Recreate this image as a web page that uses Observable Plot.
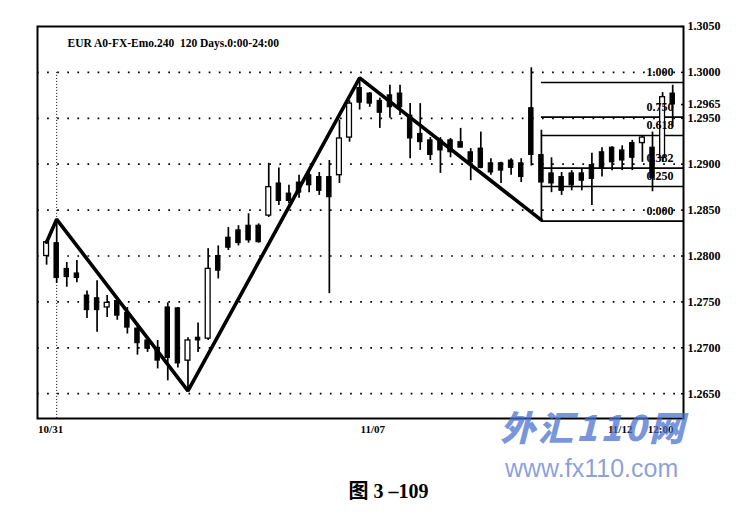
<!DOCTYPE html>
<html>
<head>
<meta charset="utf-8">
<script src="https://cdn.jsdelivr.net/npm/d3@7"></script>
<script src="https://cdn.jsdelivr.net/npm/@observablehq/plot@0.6"></script>
<style>
  html, body { margin: 0; padding: 0; background: #fff; }
  #wrap { position: relative; width: 745px; height: 526px; overflow: hidden; background: #fff; }
  #chart { position: absolute; left: 0; top: 0; }
  #caption { position: absolute; left: 16px; top: 481px; width: 745px; text-align: center; line-height: 1;
    font-family: "Liberation Serif", "Noto Sans CJK SC", serif; font-weight: bold; font-size: 20px; color: #000; }
  .wm1 { position: absolute; left: 500px; top: 408px; line-height: 1; font-family: "Noto Sans CJK SC", sans-serif;
    font-weight: 900; font-style: italic; font-size: 35px; color: rgba(70,110,205,0.72); letter-spacing: 3px; }
  .wm2 { position: absolute; left: 505px; top: 456px; line-height: 1; font-family: "Liberation Sans", Arial, sans-serif;
    font-size: 25px; color: rgba(95,125,200,0.72); }
</style>
</head>
<body>
<div id="wrap">
  <div id="chart"></div>
  <div class="wm1">外汇110网</div>
  <div class="wm2">www.fx110.com</div>
  <div id="caption">图 3 –109</div>
</div>
<script>
// ---- data (4-hour EUR candles) ----
const opens  = [1.2800,1.2814,1.2786,1.2781,1.2757,1.2754,1.2744,1.2751,1.2738,1.2721,
                1.2708,1.2700,1.2744,1.2743,1.2686,1.2711,1.2710,1.2800,1.2820,1.2828,
                1.2833,1.2833,1.2844,1.2879,1.2868,1.2880,1.2888,1.2886,1.2886,1.2888,
                1.2929,1.2983,1.2977,1.2969,1.2975,1.2977,1.2953,1.2933,1.2926,1.2926,
                1.2926,1.2924,1.2913,1.2917,1.2901,1.2901,1.2904,1.2901,1.2961,1.2910,
                1.2890,1.2886,1.2890,1.2890,1.2899,1.2913,1.2918,1.2915,1.2923,1.2923,
                1.2918,1.2907,1.2977];
const highs  = [1.2817,1.2840,1.2793,1.2795,1.2762,1.2773,1.2757,1.2755,1.2744,1.2726,
                1.2711,1.2708,1.2749,1.2744,1.2711,1.2727,1.2808,1.2811,1.2831,1.2833,
                1.2846,1.2835,1.2901,1.2896,1.2877,1.2888,1.2893,1.2891,1.2904,1.2948,
                1.2969,1.2994,1.2978,1.2972,1.2986,1.2986,1.2966,1.2966,1.2929,1.2929,
                1.2928,1.2939,1.2917,1.2935,1.2906,1.2902,1.2906,1.2906,1.3005,1.2937,
                1.2907,1.2891,1.2893,1.2895,1.2912,1.2918,1.2919,1.2920,1.2926,1.2931,
                1.2935,1.2978,1.2986];
const lows   = [1.2790,1.2770,1.2766,1.2771,1.2732,1.2717,1.2733,1.2730,1.2715,1.2692,
                1.2695,1.2677,1.2664,1.2678,1.2654,1.2695,1.2708,1.2775,1.2806,1.2811,
                1.2814,1.2814,1.2842,1.2855,1.2857,1.2863,1.2869,1.2866,1.2759,1.2879,
                1.2924,1.2959,1.2962,1.2939,1.2950,1.2953,1.2906,1.2915,1.2904,1.2890,
                1.2907,1.2918,1.2882,1.2895,1.2888,1.2879,1.2888,1.2880,1.2898,1.2838,
                1.2869,1.2866,1.2871,1.2871,1.2855,1.2886,1.2893,1.2893,1.2893,1.2902,
                1.2870,1.2902,1.2940];
const closes = [1.2815,1.2776,1.2777,1.2776,1.2741,1.2741,1.2749,1.2735,1.2722,1.2705,
                1.2699,1.2686,1.2689,1.2683,1.2708,1.2708,1.2786,1.2784,1.2809,1.2814,
                1.2817,1.2815,1.2875,1.2860,1.2860,1.2869,1.2877,1.2871,1.2864,1.2928,
                1.2966,1.2967,1.2966,1.2956,1.2962,1.2962,1.2928,1.2924,1.2910,1.2915,
                1.2913,1.2918,1.2902,1.2896,1.2891,1.2893,1.2896,1.2886,1.2910,1.2880,
                1.2879,1.2871,1.2877,1.2882,1.2884,1.2896,1.2902,1.2904,1.2907,1.2929,
                1.2885,1.2973,1.2965];

// zig-zag swing line (candle index, price)
const zzIndex = [0, 1, 14, 31, 49];
const zzPrice = [1.2815, 1.2840, 1.2653, 1.2994, 1.2839];

// Fibonacci retracement
const fibLevels = [1.000, 0.750, 0.618, 0.382, 0.250, 0.000];
const fibHigh = 1.2989, fibLow = 1.2838, fibStart = 49;

// axes
const yTicks = [1.3050, 1.3000, 1.2965, 1.2950, 1.2900, 1.2850, 1.2800, 1.2750, 1.2700, 1.2650];
const gridLevels = [1.3000, 1.2950, 1.2900, 1.2850, 1.2800, 1.2750, 1.2700, 1.2650];
const xTickPos = [0.4, 32.3, 56.8, 60.8];
const xTickLabels = ["10/31", "11/07", "11/12", "12:00"];
const dateLine = [1];
const title = "EUR A0-FX-Emo.240  120 Days.0:00-24:00";

// ---- build ----
const candles = opens.map((o, i) => ({i, o, h: highs[i], l: lows[i], c: closes[i]}));
const zz = zzIndex.map((x, k) => ({x, y: zzPrice[k]}));
const xDomain = [-0.9, 63.07];
const yDomain = [1.2623, 1.3050];
const fibY = d => fibLow + d * (fibHigh - fibLow);

const chart = Plot.plot({
  width: 745,
  height: 445,
  marginLeft: 37,
  marginRight: 62,
  marginTop: 26,
  marginBottom: 27,
  style: {fontFamily: "'Liberation Serif', serif", fontSize: "11px", fontWeight: "bold", background: "#fff", color: "#000"},
  x: {type: "linear", domain: xDomain, axis: null},
  y: {type: "linear", domain: yDomain, axis: null},
  marks: [
    Plot.ruleY(gridLevels, {stroke: "#000", strokeWidth: 1.7, strokeDasharray: "1.7,8.4"}),
    Plot.ruleX(dateLine, {y1: gridLevels[0], y2: yDomain[0], stroke: "#000", strokeWidth: 1, strokeDasharray: "1,2"}),
    Plot.ruleY(fibLevels, {y: fibY, x1: fibStart, x2: xDomain[1], stroke: "#000", strokeWidth: 1.6}),
    Plot.ruleX(candles, {x: "i", y1: "l", y2: "h", stroke: "#000", strokeWidth: 1.7}),
    Plot.rect(candles.filter(d => d.c < d.o), {x1: d => d.i - 0.22, x2: d => d.i + 0.22, y1: "o", y2: "c", fill: "#000", stroke: "#000", strokeWidth: 1}),
    Plot.rect(candles.filter(d => d.c >= d.o), {x1: d => d.i - 0.24, x2: d => d.i + 0.24, y1: "o", y2: "c", fill: "#fff", stroke: "#000", strokeWidth: 1.3}),
    Plot.line(zz, {x: "x", y: "y", stroke: "#000", strokeWidth: 3.6, strokeLinejoin: "miter"}),
    Plot.text(fibLevels, {y: fibY, frameAnchor: "right", dx: -10, dy: -10, textAnchor: "end", text: d => d.toFixed(3), fontSize: 12, fontWeight: "bold", fill: "#000"}),
    Plot.text([title], {frameAnchor: "top-left", dx: 30, dy: 12, textAnchor: "start", fontSize: 11.5, fontWeight: "bold", fill: "#000"}),
    Plot.text(yTicks, {y: d => d, frameAnchor: "right", dx: 4, textAnchor: "start", text: d => d.toFixed(4), fontSize: 12, fontWeight: "bold", fill: "#000"}),
    Plot.ruleY(yTicks, {y: d => d, x1: xDomain[1] - 0.2, x2: xDomain[1], stroke: "#000", strokeWidth: 1.5}),
    Plot.text(xTickPos, {x: d => d, frameAnchor: "bottom", dy: 14, text: (d, i) => xTickLabels[i], fontSize: 11, fontWeight: "bold", fill: "#000"}),
    Plot.frame({stroke: "#000", strokeWidth: 2})
  ]
});
document.getElementById("chart").appendChild(chart);
</script>
</body>
</html>
